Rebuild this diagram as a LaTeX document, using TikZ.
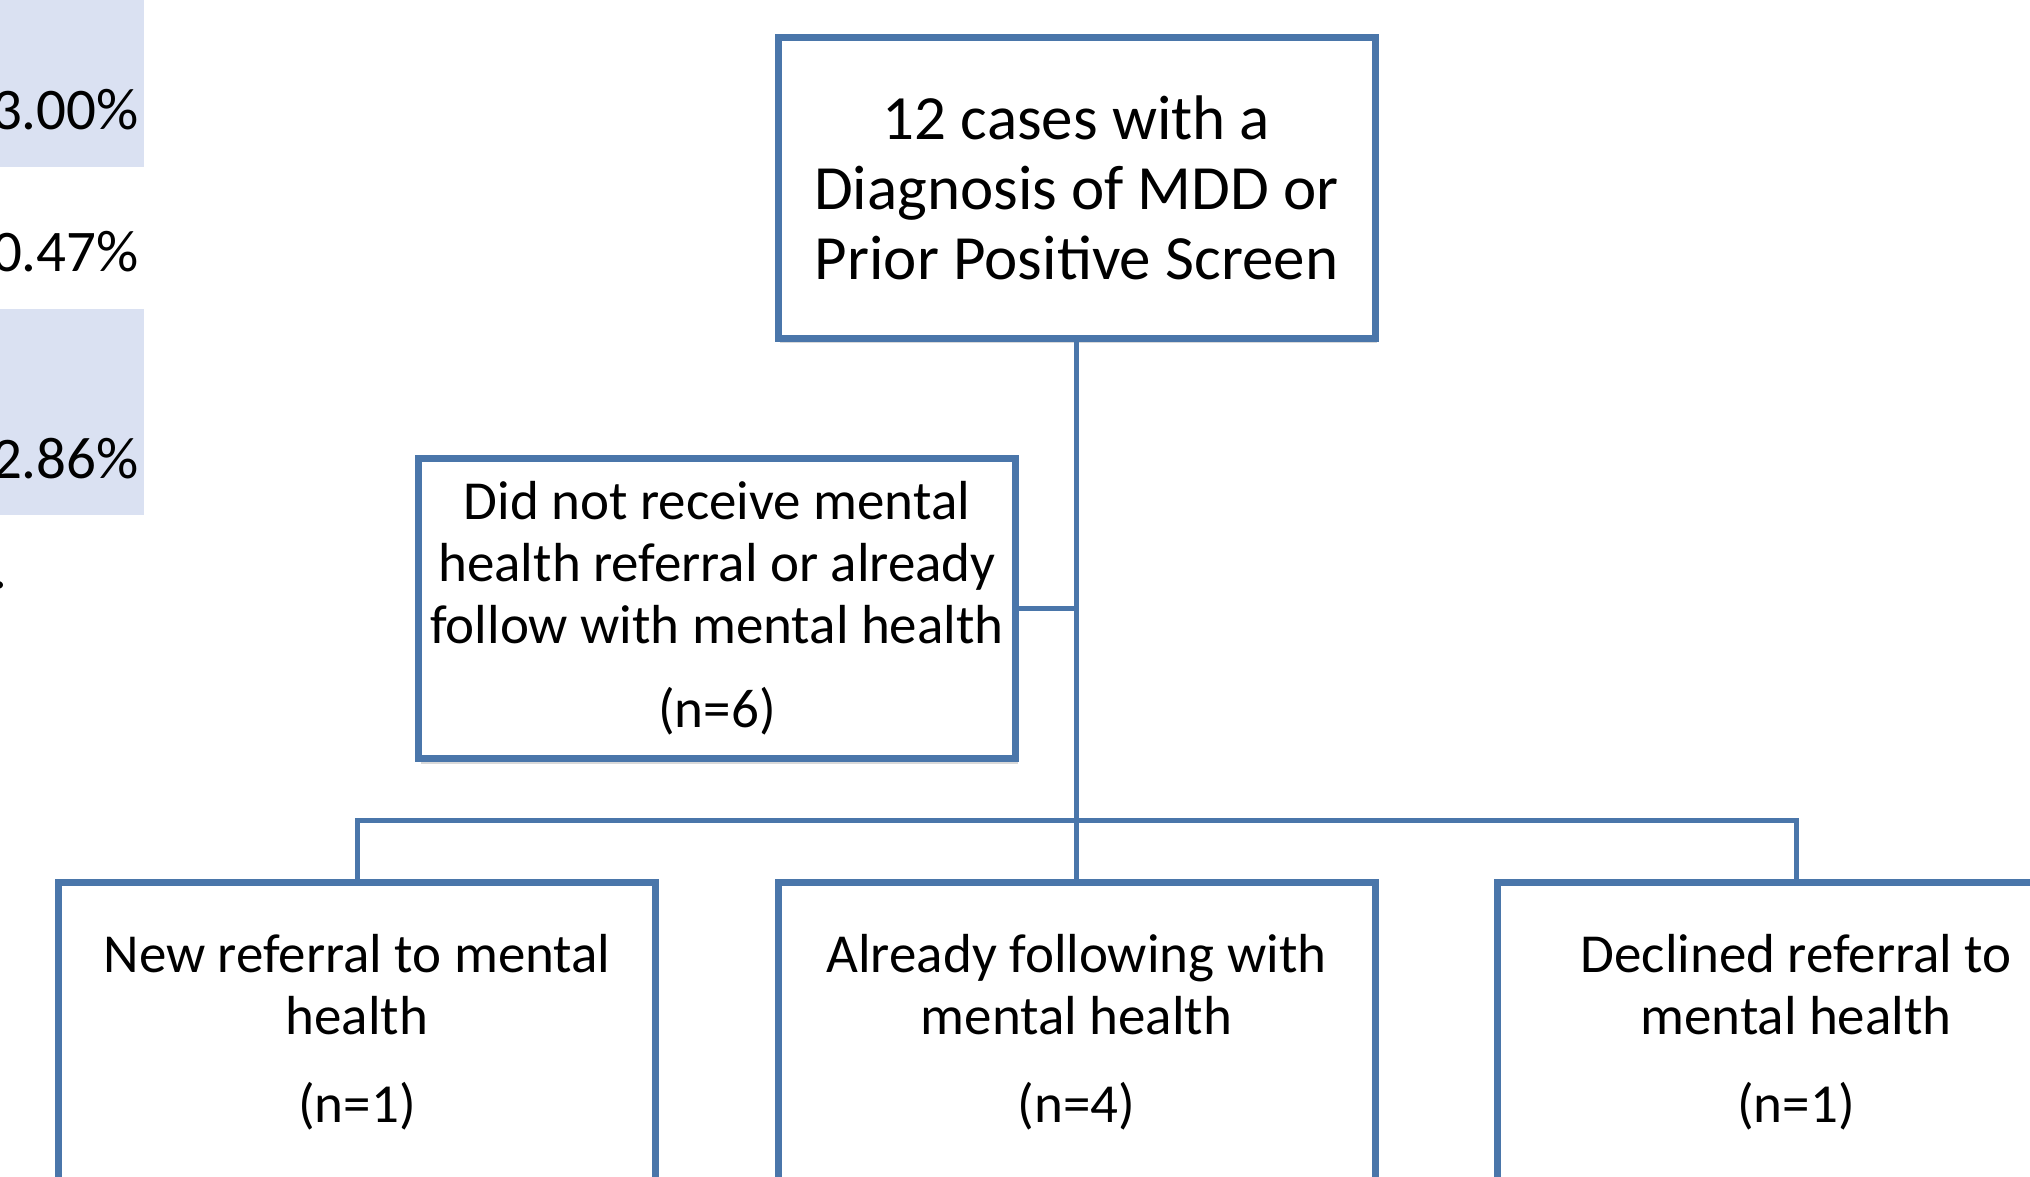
\documentclass[tikz,border=0pt]{standalone}
\usepackage{fontspec}
\setmainfont{Carlito}
\usetikzlibrary{shadows}
\definecolor{boxblue}{RGB}{74,118,170}
\definecolor{hlblue}{RGB}{218,225,242}
\tikzset{
  flowbox/.style={draw=boxblue, line width=7pt, fill=white, minimum width=597pt,
    minimum height=300pt, inner sep=0pt, align=center,
    drop shadow={shadow xshift=2pt, shadow yshift=-5pt, opacity=0.25, fill=black!60}},
  bigtext/.style={font=\fontsize{63}{70}\selectfont},
  smalltext/.style={font=\fontsize{55}{62}\selectfont},
  pct/.style={font=\fontsize{59}{66}\selectfont, inner sep=0pt, anchor=base east},
  link/.style={draw=boxblue, line width=5pt}
}
\begin{document}
\begin{tikzpicture}[x=1pt, y=-1pt]
\useasboundingbox (0,0) rectangle (2030,1177);
% left fragments
\fill[hlblue] (0,0) rectangle (144,167);
\fill[hlblue] (0,309) rectangle (144,515);
\node[pct] (p1) at (139,130) {3.00\%};
\node[pct] (p2) at (139,272) {0.47\%};
\node[pct] (p3) at (139,478) {2.86\%};
\node[pct] (p4) at (8,588) {.};
% boxes
\node[flowbox, bigtext] (top) at (1076.5,188) {12 cases with a\\Diagnosis of MDD or\\Prior Positive Screen};
\node[flowbox, smalltext] (mid) at (717,608.5) {Did not receive mental\\health referral or already\\follow with mental health\\[22pt](n=6)};
\node[flowbox, smalltext] (bl) at (357,1032) {New referral to mental\\health\\[26pt](n=1)};
\node[flowbox, smalltext] (bm) at (1076.5,1032) {Already following with\\mental health\\[26pt](n=4)};
\node[flowbox, smalltext] (br) at (1796,1032) {Declined referral to\\mental health\\[26pt](n=1)};
\coordinate (bus) at (1076.5,820);
% connectors
\draw[link] (top.south) -- (bm.north);
\draw[link] (mid.east) -- (mid.east -| top.south);
\draw[link] (bl.north) |- (bus) -| (br.north);
\end{tikzpicture}
\end{document}
